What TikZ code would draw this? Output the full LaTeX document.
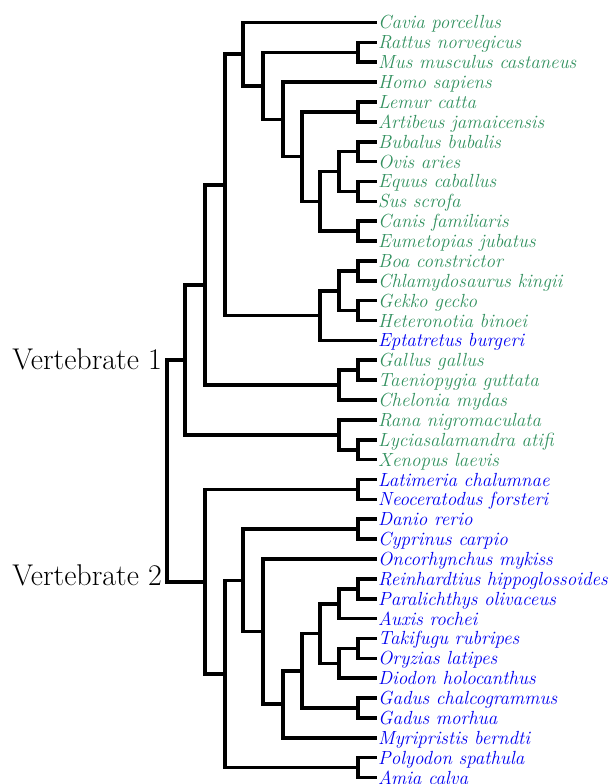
\documentclass[tikz,border=0pt]{standalone}
\usepackage{fontspec}
\usetikzlibrary{calc}
\definecolor{vgreen}{RGB}{50,145,95}
\definecolor{vblue}{RGB}{0,0,240}
\tikzset{
  branch/.style={line width=3.6pt, line join=miter, line cap=butt},
  leaf/.style={anchor=west, inner ysep=0pt, inner xsep=1.2pt, outer sep=0pt,
    text height=13pt, text depth=0pt, font=\fontsize{19}{21}\selectfont\itshape},
  gleaf/.style={leaf, text=vgreen},
  bleaf/.style={leaf, text=vblue},
  grouplabel/.style={anchor=base east, inner sep=0pt, font=\fontsize{30}{32}\selectfont}
}
\newcommand\defnode[4]{\path let \p1=($(#3)!0.5!(#4)$) in coordinate (#1) at (#2pt,\y1);}
\begin{document}
\begin{tikzpicture}[x=1pt,y=-1pt]
\useasboundingbox (0,0) rectangle (610,784);
% leaves
\node[gleaf] (l1)  at (377,22.5)   {Cavia porcellus};
\node[gleaf] (l2)  at (377,42.37)  {Rattus norvegicus};
\node[gleaf] (l3)  at (377,62.24)  {Mus musculus castaneus};
\node[gleaf] (l4)  at (377,82.11)  {Homo sapiens};
\node[gleaf] (l5)  at (377,101.98) {Lemur catta};
\node[gleaf] (l6)  at (377,121.85) {Artibeus jamaicensis};
\node[gleaf] (l7)  at (377,141.72) {Bubalus bubalis};
\node[gleaf] (l8)  at (377,161.59) {Ovis aries};
\node[gleaf] (l9)  at (377,181.46) {Equus caballus};
\node[gleaf] (l10) at (377,201.33) {Sus scrofa};
\node[gleaf] (l11) at (377,221.2)  {Canis familiaris};
\node[gleaf] (l12) at (377,241.07) {Eumetopias jubatus};
\node[gleaf] (l13) at (377,260.94) {Boa constrictor};
\node[gleaf] (l14) at (377,280.81) {Chlamydosaurus kingii};
\node[gleaf] (l15) at (377,300.68) {Gekko gecko};
\node[gleaf] (l16) at (377,320.55) {Heteronotia binoei};
\node[bleaf] (l17) at (377,340.42) {Eptatretus burgeri};
\node[gleaf] (l18) at (377,360.29) {Gallus gallus};
\node[gleaf] (l19) at (377,380.16) {Taeniopygia guttata};
\node[gleaf] (l20) at (377,400.03) {Chelonia mydas};
\node[gleaf] (l21) at (377,419.9)  {Rana nigromaculata};
\node[gleaf] (l22) at (377,439.77) {Lyciasalamandra atifi};
\node[gleaf] (l23) at (377,459.64) {Xenopus laevis};
\node[bleaf] (l24) at (377,479.51) {Latimeria chalumnae};
\node[bleaf] (l25) at (377,499.38) {Neoceratodus forsteri};
\node[bleaf] (l26) at (377,519.25) {Danio rerio};
\node[bleaf] (l27) at (377,539.12) {Cyprinus carpio};
\node[bleaf] (l28) at (377,558.99) {Oncorhynchus mykiss};
\node[bleaf] (l29) at (377,578.86) {Reinhardtius hippoglossoides};
\node[bleaf] (l30) at (377,598.73) {Paralichthys olivaceus};
\node[bleaf] (l31) at (377,618.6)  {Auxis rochei};
\node[bleaf] (l32) at (377,638.47) {Takifugu rubripes};
\node[bleaf] (l33) at (377,658.34) {Oryzias latipes};
\node[bleaf] (l34) at (377,678.21) {Diodon holocanthus};
\node[bleaf] (l35) at (377,698.08) {Gadus chalcogrammus};
\node[bleaf] (l36) at (377,717.95) {Gadus morhua};
\node[bleaf] (l37) at (377,737.82) {Myripristis berndti};
\node[bleaf] (l38) at (377,757.69) {Polyodon spathula};
\node[bleaf] (l39) at (377,777.56) {Amia calva};
% internal nodes: Vertebrate 1
\defnode{a1}{358}{l2}{l3}
\defnode{a2}{358}{l5}{l6}
\defnode{a3}{358}{l7}{l8}
\defnode{a4}{358}{l9}{l10}
\defnode{a5}{339}{a3}{a4}
\defnode{a6}{358}{l11}{l12}
\defnode{a7}{320}{a5}{a6}
\defnode{a8}{302}{a2}{a7}
\defnode{a9}{283}{l4}{a8}
\defnode{a10}{263}{a1}{a9}
\defnode{a11}{243}{l1}{a10}
\defnode{b1}{358}{l13}{l14}
\defnode{b2}{358}{l15}{l16}
\defnode{b3}{339}{b1}{b2}
\defnode{b4}{320}{b3}{l17}
\defnode{c1}{225}{a11}{b4}
\defnode{d1}{358}{l18}{l19}
\defnode{d2}{339}{d1}{l20}
\defnode{e1}{205}{c1}{d2}
\defnode{f1}{358}{l22}{l23}
\defnode{f2}{339}{l21}{f1}
\defnode{v1}{185}{e1}{f2}
% internal nodes: Vertebrate 2
\defnode{g1}{358}{l24}{l25}
\defnode{h1}{358}{l26}{l27}
\defnode{k1}{358}{l29}{l30}
\defnode{k2}{339}{k1}{l31}
\defnode{k3}{358}{l32}{l33}
\defnode{k4}{339}{k3}{l34}
\defnode{k5}{320}{k2}{k4}
\defnode{k6}{358}{l35}{l36}
\defnode{k7}{302}{k5}{k6}
\defnode{k8}{283}{k7}{l37}
\defnode{k9}{263}{l28}{k8}
\defnode{k10}{243}{h1}{k9}
\defnode{m1}{358}{l38}{l39}
\defnode{k11}{225}{k10}{m1}
\defnode{v2}{205}{g1}{k11}
\defnode{root}{167}{v1}{v2}
% branches
\foreach \p/\c in {a1/l2.west,a1/l3.west,a2/l5.west,a2/l6.west,a3/l7.west,a3/l8.west,
  a4/l9.west,a4/l10.west,a5/a3,a5/a4,a6/l11.west,a6/l12.west,a7/a5,a7/a6,a8/a2,a8/a7,
  a9/l4.west,a9/a8,a10/a1,a10/a9,a11/l1.west,a11/a10,
  b1/l13.west,b1/l14.west,b2/l15.west,b2/l16.west,b3/b1,b3/b2,b4/b3,b4/l17.west,
  c1/a11,c1/b4,d1/l18.west,d1/l19.west,d2/d1,d2/l20.west,e1/c1,e1/d2,
  f1/l22.west,f1/l23.west,f2/l21.west,f2/f1,v1/e1,v1/f2,
  g1/l24.west,g1/l25.west,h1/l26.west,h1/l27.west,k1/l29.west,k1/l30.west,k2/k1,k2/l31.west,
  k3/l32.west,k3/l33.west,k4/k3,k4/l34.west,k5/k2,k5/k4,k6/l35.west,k6/l36.west,
  k7/k5,k7/k6,k8/k7,k8/l37.west,k9/l28.west,k9/k8,k10/h1,k10/k9,
  m1/l38.west,m1/l39.west,k11/k10,k11/m1,v2/g1,v2/k11,root/v1,root/v2}
  \draw[branch] (\p) |- (\c);
% group labels
\node[grouplabel] (lab1) at (162,369) {Vertebrate 1};
\node[grouplabel] (lab2) at (162,585) {Vertebrate 2};
\end{tikzpicture}
\end{document}
